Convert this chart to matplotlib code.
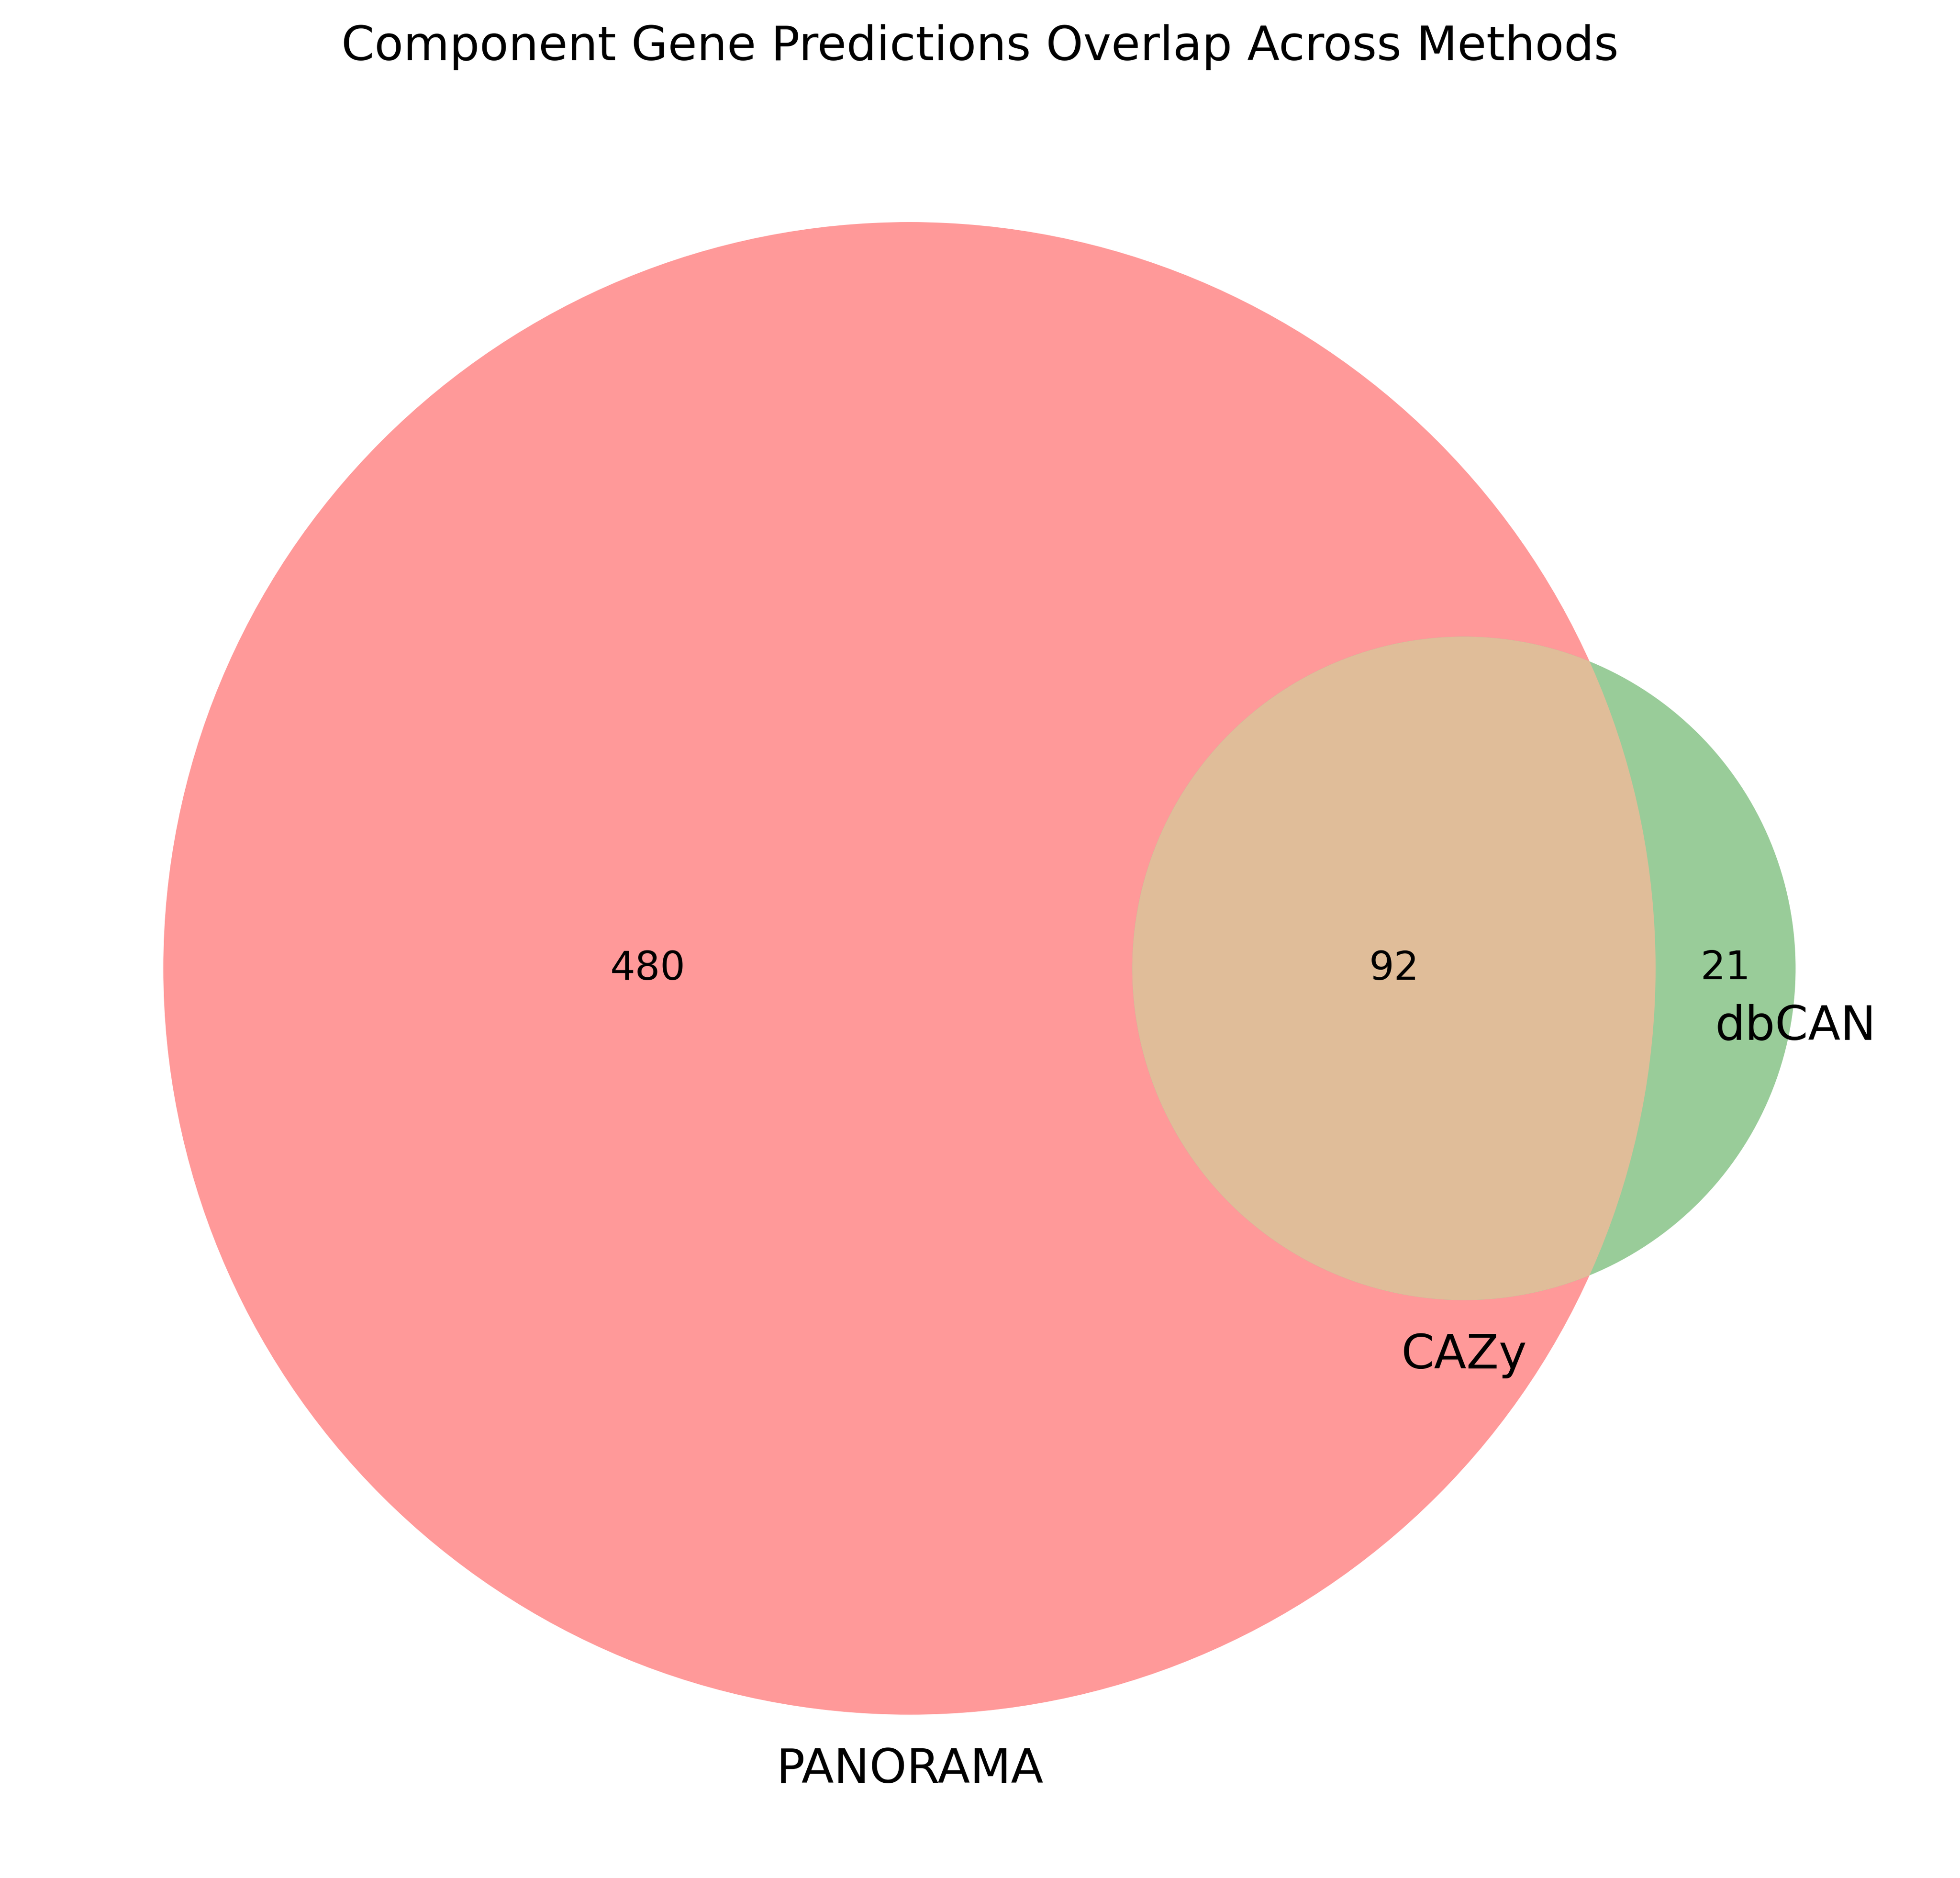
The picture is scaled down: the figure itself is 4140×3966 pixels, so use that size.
import numpy as np
import matplotlib.pyplot as plt
from matplotlib.patches import Circle

# Venn data
set_labels = ["PANORAMA", "CAZy", "dbCAN"]
only_panorama = 480
shared = 92
only_dbcan = 21
title = "Component Gene Predictions Overlap Across Methods"

# colours as matplotlib-venn builds them (alpha 0.4 on white)
col_a = "#ff9999"
col_b = "#99cc99"
col_ab = "#e0bd99"


def lens_area(r1, r2, d):
    a1 = r1**2 * np.arccos((d**2 + r1**2 - r2**2) / (2 * d * r1))
    a2 = r2**2 * np.arccos((d**2 + r2**2 - r1**2) / (2 * d * r2))
    k = (-d + r1 + r2) * (d + r1 - r2) * (d - r1 + r2) * (d + r1 + r2)
    return a1 + a2 - 0.5 * np.sqrt(k)


def solve_distance(r1, r2, target):
    lo, hi = abs(r1 - r2) + 1e-9, r1 + r2 - 1e-9
    for _ in range(200):
        mid = 0.5 * (lo + hi)
        if lens_area(r1, r2, mid) > target:
            lo = mid
        else:
            hi = mid
    return 0.5 * (lo + hi)


r_a = np.sqrt((only_panorama + shared) / np.pi)
r_b = np.sqrt((only_dbcan + shared) / np.pi)
d = solve_distance(r_a, r_b, shared)

fig = plt.figure(figsize=(13.8, 13.22), dpi=300)
ax = fig.add_axes([0, 0, 1, 1])

# pixel layout of the big circle in the output
s = 1576 / r_a
cx, cy = 1921, 2045
ax.set_xlim(-cx / s, (4140 - cx) / s)
ax.set_ylim(-(3966 - cy) / s, cy / s)
ax.set_aspect("equal")
ax.set_axis_off()

circ_a = Circle((0, 0), r_a, facecolor=col_a, edgecolor="none")
circ_b = Circle((d, 0), r_b, facecolor=col_b, edgecolor="none")
ax.add_patch(circ_a)
ax.add_patch(circ_b)
inter = Circle((d, 0), r_b, facecolor=col_ab, edgecolor="none")
ax.add_patch(inter)
clip = Circle((0, 0), r_a, transform=ax.transData)
inter.set_clip_path(clip)

# region counts at midpoints of the region extents
ax.text(0.5 * (-r_a + d - r_b), 0, str(only_panorama), ha="center", va="center", fontsize=20)
ax.text(0.5 * (d - r_b + r_a), 0, str(shared), ha="center", va="center", fontsize=20)
ax.text(0.5 * (r_a + d + r_b), 0, str(only_dbcan), ha="center", va="center", fontsize=20)

# set labels
ax.text(0, -r_a - 1.0, set_labels[0], ha="center", va="center", fontsize=24)
ax.text(d, -r_b - 1.0, set_labels[1], ha="center", va="center", fontsize=24)
ax.text(d + r_b, -1.05, set_labels[2], ha="center", va="center", fontsize=24)

fig.text(0.5, 1 - 100 / 3966, title, ha="center", va="center", fontsize=24)

fig.savefig("out.png", dpi=300)
